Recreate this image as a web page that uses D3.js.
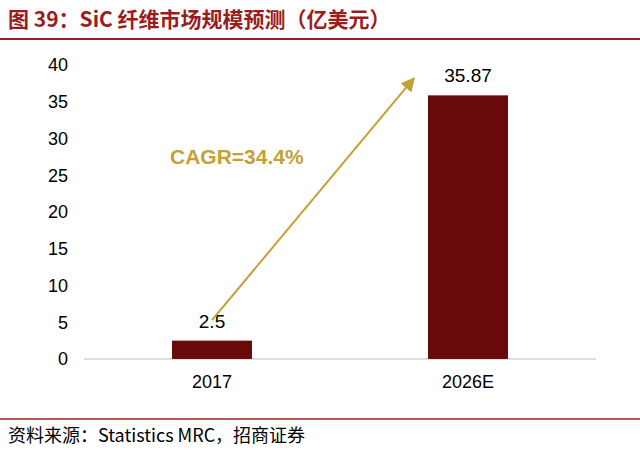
<!DOCTYPE html>
<html><head><meta charset="utf-8">
<script src="https://cdn.jsdelivr.net/npm/d3@7"></script>
<style>body{margin:0;background:#fff;font-family:Arial,"Liberation Sans","Noto Sans CJK SC",sans-serif}</style>
</head><body><div id="chart"></div>
<script>
var categories = ["2017", "2026E"];
var values = [2.5, 35.87];
var labels = ["2.5", "35.87"];
var yTicks = [0, 5, 10, 15, 20, 25, 30, 35, 40];

var svg = d3.select("#chart").append("svg").attr("width", 640).attr("height", 450);

svg.append("text").attr("x", 8).attr("y", 27)
    .style("font-family", "'Noto Sans CJK SC',sans-serif").style("font-size", "21px").style("font-weight", "bold")
    .attr("fill", "#9B1C1C").text("图 39：SiC 纤维市场规模预测（亿美元）");
svg.append("line").attr("x1", 0).attr("x2", 640).attr("y1", 39).attr("y2", 39)
    .attr("stroke", "#9B1C1C").attr("stroke-width", 2);

var x = d3.scaleBand().domain(categories).range([84, 596]).paddingInner(0.6875).paddingOuter(0.34375);
var y = d3.scaleLinear().domain([0, 40]).range([359, 65]);

svg.append("g").attr("transform", "translate(84,0)")
    .call(d3.axisLeft(y).tickValues(yTicks).tickSize(0).tickPadding(16))
    .call(function (g) { g.select(".domain").remove(); })
    .selectAll("text").style("font-size", "18px").style("font-family", "Arial,'Liberation Sans'").attr("fill", "#000");

svg.append("g").attr("transform", "translate(0,359)")
    .call(d3.axisBottom(x).tickSize(0).tickPadding(16))
    .call(function (g) { g.select(".domain").attr("stroke", "#bfbfbf").attr("d", "M84,0H596"); })
    .selectAll("text").style("font-size", "18px").style("font-family", "Arial,'Liberation Sans'").attr("fill", "#000");

svg.selectAll("rect.bar").data(values).enter().append("rect")
    .attr("x", function (d, i) { return x(categories[i]); })
    .attr("width", x.bandwidth())
    .attr("y", function (d) { return y(d); })
    .attr("height", function (d) { return y(0) - y(d); })
    .attr("fill", "#6B0A0A");

svg.selectAll("text.lbl").data(values).enter().append("text")
    .attr("x", function (d, i) { return x(categories[i]) + x.bandwidth() / 2; })
    .attr("y", function (d) { return y(d) - 13; })
    .attr("text-anchor", "middle").style("font-size", "19px").text(function (d, i) { return labels[i]; });

var gold = "#C5A034";
svg.append("defs").append("marker").attr("id", "ah").attr("viewBox", "0 0 10 10")
    .attr("refX", 9).attr("refY", 5).attr("markerWidth", 7).attr("markerHeight", 7).attr("orient", "auto")
    .append("path").attr("d", "M0,0L10,5L0,10z").attr("fill", gold);
svg.append("line")
    .attr("x1", x("2017") + x.bandwidth() / 2).attr("y1", y(5.3))
    .attr("x2", x("2026E") - 14).attr("y2", y(38.2))
    .attr("stroke", gold).attr("stroke-width", 2).attr("marker-end", "url(#ah)");
svg.append("text").attr("x", 170).attr("y", 164).attr("fill", gold)
    .style("font-size", "21px").style("font-weight", "bold").text("CAGR=34.4%");

svg.append("line").attr("x1", 0).attr("x2", 640).attr("y1", 419).attr("y2", 419)
    .attr("stroke", "#9B1C1C").attr("stroke-width", 1.5);
svg.append("text").attr("x", 8).attr("y", 442).style("font-size", "18px")
    .style("font-family", "'Noto Sans CJK SC',sans-serif").text("资料来源：Statistics MRC，招商证券");
</script></body></html>
